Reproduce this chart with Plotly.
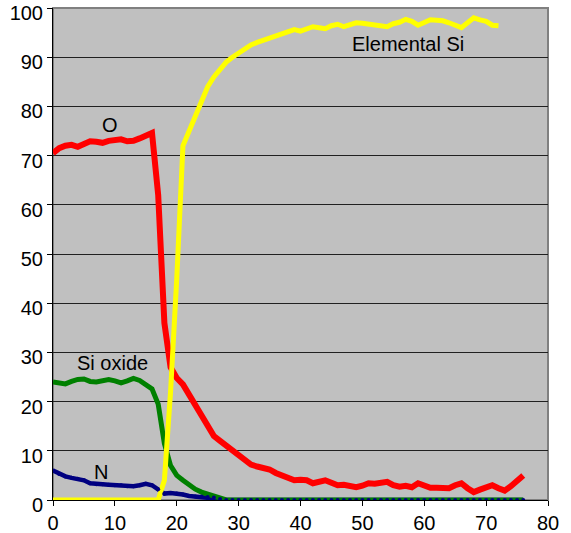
import plotly.graph_objects as go

# Sputter depth profile: composition (at.%) versus sputter time
depth = list(range(0, 77))

oxygen = [70.5, 71.5, 72.0, 72.2, 71.8, 72.3, 72.9, 72.8, 72.6, 73.0,
          73.3, 73.3, 72.9, 73.0, 73.5, 74.2, 74.6, 62.0, 36.0, 27.0,
          24.8, 23.5, 21.5, 19.0, 17.0, 15.0, 13.0, 12.0, 11.0, 10.0,
          9.0, 8.0, 7.2, 6.8, 6.6, 6.2, 5.5, 5.0, 4.5, 4.0,
          4.1, 4.0, 3.4, 3.8, 4.0, 3.5, 3.0, 3.1, 3.0, 2.6,
          2.9, 3.4, 3.3, 3.4, 3.7, 3.0, 2.7, 2.9, 2.6, 3.4,
          2.9, 2.5, 2.5, 2.6, 2.4, 3.0, 3.4, 2.4, 1.6, 2.1,
          2.7, 3.0, 2.4, 1.9, 2.8, 4.0, 5.0]

elemental_si = [0, 0, 0, 0, 0, 0, 0, 0, 0, 0,
                0, 0, 0, 0, 0, 0, 0, 0, 4.0, 22.0,
                45.0, 72.0, 75.0, 78.0, 81.0, 84.0, 86.0, 87.5, 89.0, 90.0,
                90.8, 91.8, 92.5, 93.0, 93.4, 94.0, 94.3, 94.6, 95.2, 95.6,
                95.3, 95.8, 96.2, 96.0, 95.8, 96.4, 96.7, 96.2, 96.5, 97.0,
                96.9, 96.7, 96.5, 96.4, 96.2, 96.8, 97.1, 97.7, 97.3, 96.5,
                97.0, 97.6, 97.5, 97.4, 97.0, 96.6, 96.0, 97.0, 98.0, 97.6,
                97.3, 96.5, 96.4]

si_oxide = [24.0, 23.8, 23.6, 24.1, 24.5, 24.6, 24.1, 24.0, 24.3, 24.5,
            24.2, 23.8, 24.2, 24.7, 24.3, 23.5, 22.6, 19.5, 11.5, 7.0,
            5.0, 4.0, 3.0, 2.2, 1.6, 1.2, 0.8, 0.3] + [0] * 49

nitrogen = [6.0, 5.3, 4.8, 4.5, 4.3, 4.0, 3.4, 3.2, 3.2, 3.1,
            3.0, 3.0, 2.8, 2.8, 3.0, 3.3, 3.0, 2.2, 1.3, 1.4,
            1.3, 1.1, 0.8, 0.7, 0.7, 0.6, 0.5, 0.2] + [0] * 49

x_ticks = [0, 10, 20, 30, 40, 50, 60, 70, 80]
y_ticks = [0, 10, 20, 30, 40, 50, 60, 70, 80, 90, 100]

labels = [
    ("O", 9.2, 76.3),
    ("Elemental Si", 57.4, 92.6),
    ("Si oxide", 9.6, 27.8),
    ("N", 7.8, 5.7),
]

NAVY = "#000080"
fig = go.Figure()

# N line sits underneath the other curves; its markers are drawn last
fig.add_trace(go.Scatter(x=depth, y=nitrogen, mode="lines",
                         line=dict(color=NAVY, width=4.5), name="N"))
fig.add_trace(go.Scatter(x=depth, y=si_oxide, mode="lines",
                         line=dict(color="#008000", width=5), name="Si oxide"))
fig.add_trace(go.Scatter(x=depth, y=oxygen, mode="lines",
                         line=dict(color="#FF0000", width=6), name="O"))
fig.add_trace(go.Scatter(x=depth[:len(elemental_si)], y=elemental_si, mode="lines",
                         line=dict(color="#FFFF00", width=5), name="Elemental Si"))
fig.add_trace(go.Scatter(x=depth, y=nitrogen, mode="markers",
                         marker=dict(color=NAVY, size=4), showlegend=False))

for text, lx, ly in labels:
    fig.add_annotation(x=lx, y=ly, text=text, showarrow=False,
                       font=dict(family="Liberation Sans, Arial", size=20, color="black"))

# grey frame around the plotting area
fig.add_shape(type="rect", xref="x domain", yref="y domain", x0=0, x1=1, y0=0, y1=1,
              line=dict(color="#808080", width=2), layer="below")

fig.update_layout(
    width=571, height=533,
    margin=dict(l=53, r=23, t=8, b=33),
    paper_bgcolor="white",
    plot_bgcolor="#C0C0C0",
    showlegend=False,
    font=dict(family="Liberation Sans, Arial", size=20, color="black"),
)
fig.update_xaxes(range=[0, 80], tickvals=x_ticks, showgrid=False, zeroline=False,
                 showline=True, linecolor="black", linewidth=1,
                 ticks="outside", ticklen=5, tickcolor="black",
                 tickfont=dict(size=20), automargin=False,
                 ticklabeloverflow="allow")
fig.update_yaxes(range=[0, 100], tickvals=y_ticks, showgrid=True, gridcolor="#202020",
                 gridwidth=1, zeroline=False,
                 showline=True, linecolor="black", linewidth=1,
                 ticks="outside", ticklen=5, tickcolor="black",
                 tickfont=dict(size=20), automargin=False,
                 ticklabeloverflow="allow", ticklabelshift=5)

fig.write_html("out.html")
